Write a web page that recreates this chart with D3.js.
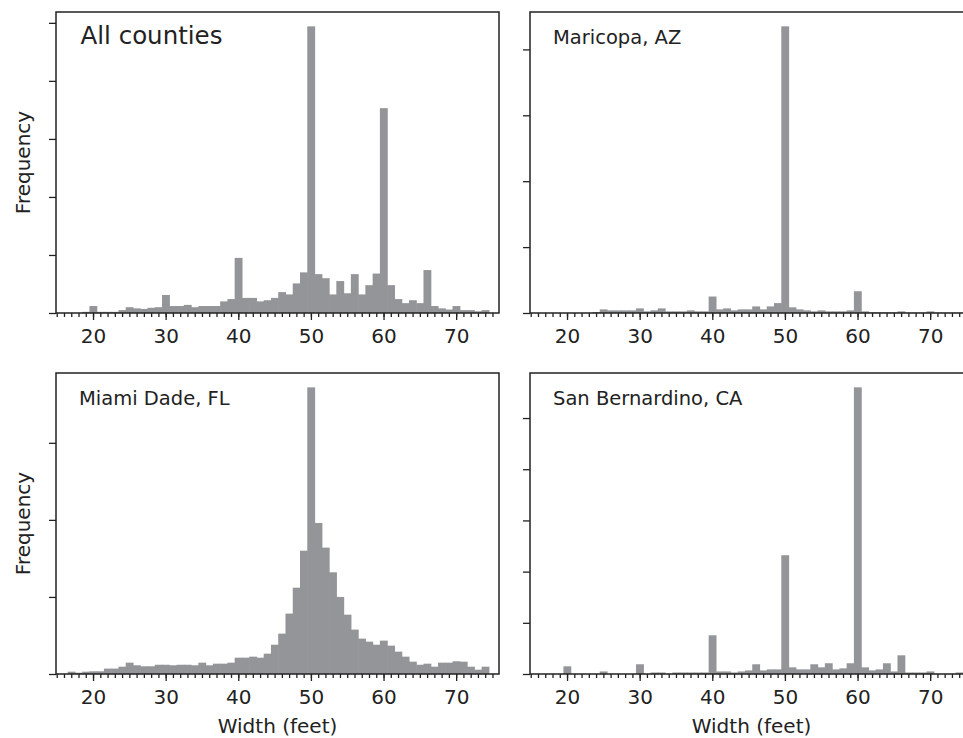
<!DOCTYPE html>
<html>
<head>
<meta charset="utf-8">
<script src="https://cdn.jsdelivr.net/npm/d3@7"></script>
<style>
  body { margin: 0; background: #fff; overflow: hidden; }
  text { font-family: "DejaVu Sans", sans-serif; fill: #222; }
</style>
</head>
<body>
<div id="vis"></div>
<script>
// bin centres (feet), one bin per foot
const widths = d3.range(17, 75);
const xTicks = [20, 30, 40, 50, 60, 70];

// frequencies, arbitrary units (100 = one y tick)
const allCounties = [0, 0, 2, 12, 2, 2, 2, 5, 10, 8, 7, 9, 10, 31, 12, 12, 14, 10, 12, 12, 12, 20, 24, 95,
  26, 26, 20, 22, 26, 36, 32, 51, 70, 494, 67, 60, 32, 55, 34, 67, 32, 48, 68, 353, 48, 24, 17, 22, 17, 74,
  12, 8, 6, 12, 5, 5, 3, 5];
const maricopa = [0, 0, 0, 0, 0, 0, 0, 1.5, 5.5, 4, 4, 4, 4, 7, 2.5, 4, 7, 2.5, 2.5, 2.5, 4, 2.5, 2.5, 25,
  5.5, 7, 4, 5.5, 5.5, 10, 5.5, 10, 15, 435, 8.6, 5.5, 4, 2.5, 4, 2.5, 2.5, 2.5, 4, 33, 2.5, 1, 1, 1, 1, 2.5,
  0.5, 0.5, 0.5, 2.5, 0.5, 0.5, 0.5, 0.5];
const miamiDade = [3, 1.7, 3, 3.5, 3.5, 7, 7, 9.5, 14.7, 11.3, 10, 10, 12, 12, 11.3, 12, 12, 11.3, 14.7, 11.3,
  13.4, 13.4, 14.7, 21.2, 21.2, 22.5, 21.2, 26.4, 38, 52.4, 78.4, 112, 160, 372, 196, 164, 132, 100, 77,
  57.6, 45.9, 42, 38, 43.3, 36.8, 29, 22.5, 16, 12, 13.4, 9.5, 14.7, 14.7, 16.5, 16, 9.5, 5.6, 9.5];
const sanBernardino = [0, 0, 0, 15, 0, 0, 0, 0, 5, 0, 0, 0, 0, 19, 0, 3, 3, 0, 3, 3, 3, 3, 3, 75.6,
  5, 5, 3, 5, 7, 19, 7, 9, 9, 232, 13, 9, 9, 19, 13, 21, 9, 11, 21, 560, 13, 7, 9, 21, 5, 36.5,
  3, 3, 3, 5, 0, 0, 0, 3];

const panels = [
  { label: "All counties", values: allCounties, big: true, x: 56, y: 12, h: 301, ylab: true, xlab: false },
  { label: "Maricopa, AZ", values: maricopa, x: 530, y: 12, h: 301, ylab: false, xlab: false },
  { label: "Miami Dade, FL", values: miamiDade, x: 56, y: 373, h: 301, ylab: true, xlab: true },
  { label: "San Bernardino, CA", values: sanBernardino, x: 530, y: 373, h: 301, ylab: false, xlab: true }
];

const W = 963, H = 738, pw = 443;
const barColor = "#939598", ink = "#222";

const svg = d3.select("#vis").append("svg")
    .attr("width", W)
    .attr("height", H);

panels.forEach(function (p) {
  const g = svg.append("g").attr("transform", "translate(" + p.x + "," + p.y + ")");

  const x = d3.scaleLinear().domain([14.9, 75.9]).range([0, pw]);
  const maxV = d3.max(p.values);
  const y = d3.scaleLinear().domain([0, maxV * 1.05]).range([p.h, 0]);

  // bars (slight overlap so neighbouring bins join up like the original)
  g.selectAll("rect.bar")
    .data(widths.map((w, i) => ({ w: w, v: p.values[i] })))
    .enter().append("rect")
      .attr("class", "bar")
      .attr("x", (d) => x(d.w - 0.5))
      .attr("width", (d) => x(d.w + 0.5) - x(d.w - 0.5) + 0.6)
      .attr("y", (d) => y(d.v))
      .attr("height", (d) => p.h - y(d.v))
      .attr("fill", barColor);

  // minor x ticks
  const minor = g.append("g")
      .attr("transform", "translate(0," + p.h + ")")
      .call(d3.axisBottom(x).tickValues(d3.range(15, 76)).tickSize(4).tickFormat(""));
  minor.select(".domain").remove();

  // major x ticks
  const major = g.append("g")
      .attr("transform", "translate(0," + p.h + ")")
      .call(d3.axisBottom(x).tickValues(xTicks).tickSize(7).tickPadding(9));
  major.select(".domain").remove();
  major.selectAll("text")
      .attr("font-size", "20px")
      .attr("font-family", "DejaVu Sans")
      .attr("fill", ink);

  // y ticks, no labels
  const yAx = g.append("g")
      .call(d3.axisLeft(y).tickValues(d3.range(0, maxV * 1.05, 100)).tickSize(7).tickFormat(""));
  yAx.select(".domain").remove();

  g.selectAll(".tick line").attr("stroke", ink).attr("stroke-width", 1.3);

  // frame
  g.append("rect")
      .attr("width", pw)
      .attr("height", p.h)
      .attr("fill", "none")
      .attr("stroke", ink)
      .attr("stroke-width", 1.5);

  g.append("text")
      .attr("x", p.big ? 24.5 : 23)
      .attr("y", 31.5)
      .attr("font-size", p.big ? "24.5px" : "19.5px")
      .text(p.label);

  if (p.ylab) {
    g.append("text")
        .attr("transform", "translate(-26," + (p.h / 2) + ") rotate(-90)")
        .attr("text-anchor", "middle")
        .attr("font-size", "20px")
        .text("Frequency");
  }
  if (p.xlab) {
    g.append("text")
        .attr("x", pw / 2)
        .attr("y", p.h + 59)
        .attr("text-anchor", "middle")
        .attr("font-size", "20px")
        .text("Width (feet)");
  }
});
</script>
</body>
</html>
